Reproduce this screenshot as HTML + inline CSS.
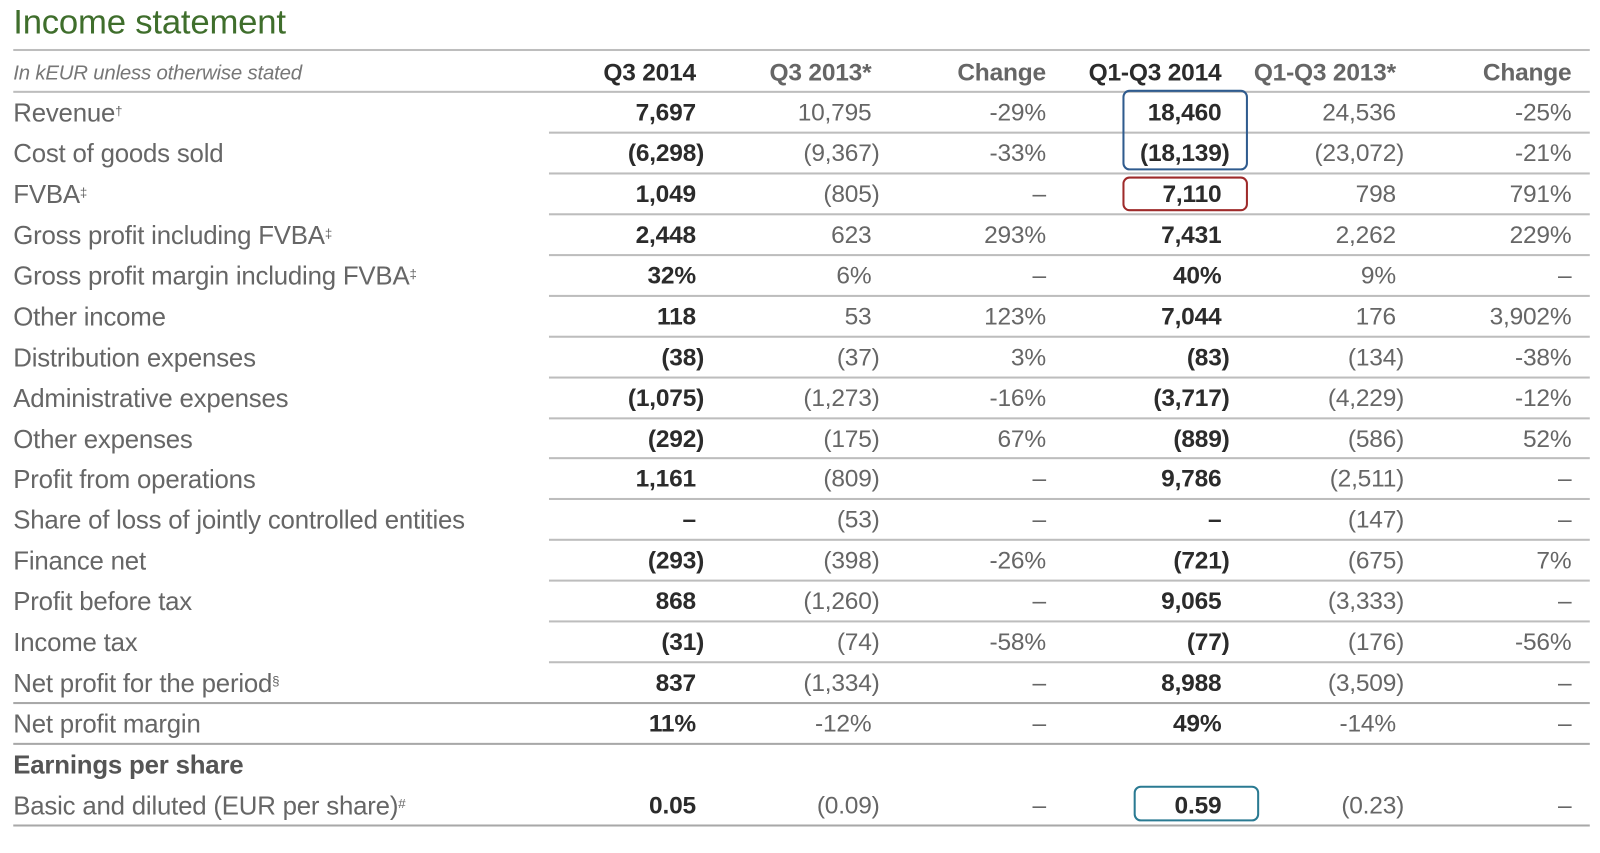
<!DOCTYPE html>
<html><head><meta charset="utf-8"><style>
html,body{margin:0;padding:0;background:#fff;}
body{width:1600px;height:836px;position:relative;overflow:hidden;font-family:"Liberation Sans",sans-serif;}
#wrap{position:absolute;left:0;top:0;width:1600px;height:836px;transform:scale(1.0204);transform-origin:0 0}
.t{position:absolute;white-space:nowrap;line-height:30px;font-size:24px;color:#666;letter-spacing:-0.2px}
.lbl{font-size:25.3px}
.b{color:#2b2b2b;font-weight:bold}
.h{position:absolute;height:2px;background:#bdbdbd}
.hd{position:absolute;height:2px;background:#a8a8a8}
.box{position:absolute;border:2px solid;border-radius:7px;box-sizing:border-box}
sup{font-size:13px;vertical-align:top;position:relative;top:-2px}
</style></head><body>
<div id="wrap">
<div class="t" style="left:13px;top:2px;font-size:34px;line-height:40px;color:#3f6e2c">Income statement</div>
<div id="tbl"></div>
<div class="box" style="left:1100px;top:88px;width:123px;height:79px;border-color:#2f5b8e"></div>
<div class="box" style="left:1100px;top:173px;width:123px;height:34px;border-color:#9e2a2a"></div>
<div class="box" style="left:1111px;top:770px;width:123px;height:35px;border-color:#2a7a92"></div>
</div>
<script>
const labels=["Revenue<sup>†</sup>","Cost of goods sold","FVBA<sup>‡</sup>","Gross profit including FVBA<sup>‡</sup>","Gross profit margin including FVBA<sup>‡</sup>","Other income","Distribution expenses","Administrative expenses","Other expenses","Profit from operations","Share of loss of jointly controlled entities","Finance net","Profit before tax","Income tax","Net profit for the period<sup>§</sup>","Net profit margin","Earnings per share","Basic and diluted (EUR per share)<sup>#</sup>"];
const q3_2014=["7,697","(6,298)","1,049","2,448","32%","118","(38)","(1,075)","(292)","1,161","–","(293)","868","(31)","837","11%","","0.05"];
const q3_2013=["10,795","(9,367)","(805)","623","6%","53","(37)","(1,273)","(175)","(809)","(53)","(398)","(1,260)","(74)","(1,334)","-12%","","(0.09)"];
const chg1=["-29%","-33%","–","293%","–","123%","3%","-16%","67%","–","–","-26%","–","-58%","–","–","","–"];
const ytd2014=["18,460","(18,139)","7,110","7,431","40%","7,044","(83)","(3,717)","(889)","9,786","–","(721)","9,065","(77)","8,988","49%","","0.59"];
const ytd2013=["24,536","(23,072)","798","2,262","9%","176","(134)","(4,229)","(586)","(2,511)","(147)","(675)","(3,333)","(176)","(3,509)","-14%","","(0.23)"];
const chg2=["-25%","-21%","791%","229%","–","3,902%","-38%","-12%","52%","–","–","7%","–","-56%","–","–","","–"];
const headers=["Q3 2014","Q3 2013*","Change","Q1-Q3 2014","Q1-Q3 2013*","Change"];
const cols=[q3_2014,q3_2013,chg1,ytd2014,ytd2013,chg2];
const colRight=[682,854,1025,1197,1368,1540];
const boldCol=[true,false,false,true,false,false];
const W=1600,t=document.getElementById('tbl');
function add(html,cls,style,name){const d=document.createElement('div');d.className=cls;d.style.cssText=style;d.innerHTML=html;


t.appendChild(d);return d;}
function line(y,x1,cls,name){add('',cls,`left:${x1}px;top:${y}px;width:${1558-x1}px`,name);}
line(48,13,'h','top-rule');line(89,13,'h','header-rule');
add('In kEUR unless otherwise stated','t',`left:13px;top:57px;font-size:20px;font-style:italic;color:#777`,'units-note');
headers.forEach((h,i)=>add(h,'t'+(i==0||i==3?' b':''),`right:${W-colRight[i]}px;top:57px;font-weight:bold;${i==0||i==3?'':'color:#666'}`,'column-header'));
const rowH=39.94,y0=96;
labels.forEach((lb,r)=>{const y=y0+r*rowH;
 add(lb,'t lbl',`left:13px;top:${y}px;${r==16?'color:#555;font-weight:600':''}`,'row-label');
 cols.forEach((c,j)=>{let v=c[r];if(!v)return;const paren=v.startsWith('(');
  add(v,'t'+(boldCol[j]?' b':''),`right:${W-colRight[j]-(paren?8:0)}px;top:${y}px`,'cell-value');});
 const ly=Math.round(95+(r+1)*rowH-6);
 if(r==14||r==15||r==17)line(ly,13,'hd','row-rule');
 else if(r<14)line(ly,538,'h','row-rule');
});
</script>
</body></html>
